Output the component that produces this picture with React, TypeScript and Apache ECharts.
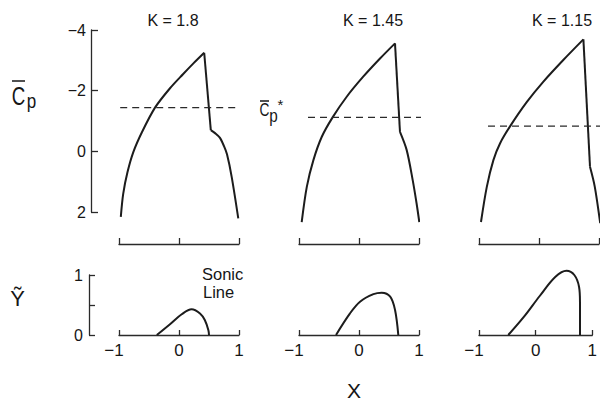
import { useEffect, useRef } from 'react';
import * as echarts from 'echarts';

const FONT = '"Liberation Sans", Arial, sans-serif';
const INK = '#161616';
const LINE = '#1c1c1c';

// Reduced frequency parameter for each column
const kValues = ['1.8', '1.45', '1.15'];

// Axis ticks
const xTicks = [-1, 0, 1];
const cpTicks = [-4, -2, 0, 2];
const yTicks = [0, 1];

// Upper surface pressure coefficient: expansion branch up to the shock
const cpExpansion: number[][][] = [
  [[-0.97, 2.16], [-0.93, 1.4], [-0.86, 0.7], [-0.76, 0.02], [-0.62, -0.62], [-0.4, -1.44], [-0.15, -2.08], [0.07, -2.55], [0.24, -2.9], [0.42, -3.25]],
  [[-0.955, 2.33], [-0.87, 1.17], [-0.76, 0.29], [-0.62, -0.48], [-0.44, -1.12], [-0.205, -1.8], [0.07, -2.46], [0.35, -3.06], [0.6, -3.56]],
  [[-0.967, 2.33], [-0.87, 1.17], [-0.76, 0.29], [-0.65, -0.26], [-0.48, -0.83], [-0.205, -1.62], [0.07, -2.29], [0.405, -3.01], [0.74, -3.69]],
];

// Jump across the shock
const cpShock: number[][][] = [
  [[0.42, -3.25], [0.53, -0.7]],
  [[0.6, -3.56], [0.683, -0.64]],
  [[0.74, -3.69], [0.85, 0.51]],
];

// Recompression behind the shock to the trailing edge
const cpRecovery: number[][][] = [
  [[0.53, -0.7], [0.6, -0.6], [0.68, -0.45], [0.75, -0.17], [0.8, 0.1], [0.878, 0.84], [0.988, 2.21]],
  [[0.683, -0.64], [0.795, -0.04], [0.895, 0.95], [0.96, 1.72], [1.005, 2.33]],
  [[0.85, 0.51], [0.93, 1.17], [1.02, 2.37]],
];

// Critical pressure coefficient and the X range of its dashed line
const cpCritical = [-1.44, -1.12, -0.83];
const cpCriticalSpan = [[-0.98, 0.95], [-0.85, 1.12], [-0.85, 1.35]];

// Sonic line (edge of the supersonic pocket)
const sonicArc: number[][][] = [
  [[-0.37, 0], [-0.15, 0.18], [0.045, 0.345], [0.21, 0.43], [0.35, 0.36], [0.43, 0.25], [0.49, 0.08], [0.5, 0]],
  [[-0.383, 0], [-0.15, 0.36], [0.017, 0.555], [0.24, 0.68], [0.378, 0.705], [0.52, 0.64], [0.6, 0.42], [0.655, 0]],
  [[-0.483, 0], [-0.205, 0.305], [0.072, 0.65], [0.35, 0.97], [0.545, 1.07], [0.683, 1.0], [0.767, 0.8], [0.783, 0.55]],
];
const sonicDrop: number[][][] = [[], [], [[0.783, 0.55], [0.783, 0]]];

const lefts = [119, 299, 479];
const titleX = [173, 373, 562];
const UPPER_TOP = 30;
const UPPER_H = 182;
const LOWER_TOP = 275;
const LOWER_H = 60;
const PANEL_W = 120;

const axisLineStyle = { color: '#2a2a2a', width: 1.3 };
const minus = (v: number) => (v < 0 ? `\u2212${-v}` : `${v}`);

function buildOption() {
  const grid: any[] = [];
  const xAxis: any[] = [];
  const yAxis: any[] = [];
  const series: any[] = [];
  const xStep = xTicks[1] - xTicks[0];

  kValues.forEach((_, i) => {
    grid.push({ left: lefts[i], top: UPPER_TOP, width: PANEL_W, height: UPPER_H });
  });
  kValues.forEach((_, i) => {
    grid.push({ left: lefts[i], top: LOWER_TOP, width: PANEL_W, height: LOWER_H });
  });

  // upper x axes: unlabeled brackets below the Cp plots
  kValues.forEach((_, i) => {
    xAxis.push({
      gridIndex: i, type: 'value', min: xTicks[0], max: xTicks[xTicks.length - 1], interval: xStep,
      position: 'bottom', offset: 32,
      axisLine: { show: true, onZero: false, lineStyle: axisLineStyle },
      axisTick: { show: true, inside: true, length: 6, lineStyle: axisLineStyle },
      axisLabel: { show: false },
      splitLine: { show: false },
    });
  });
  // lower x axes with labels
  kValues.forEach((_, i) => {
    xAxis.push({
      gridIndex: i + 3, type: 'value', min: xTicks[0], max: xTicks[xTicks.length - 1], interval: xStep,
      position: 'bottom', offset: 0,
      axisLine: { show: true, onZero: false, lineStyle: axisLineStyle },
      axisTick: { show: true, inside: true, length: 5, lineStyle: axisLineStyle },
      axisLabel: {
        margin: 7,
        formatter: (v: number) => (v < 0 ? `{n|${minus(v)}}{gap| }` : `{n|${v}}`),
        rich: {
          n: { fontSize: 17, fontFamily: FONT, color: INK },
          gap: { width: 10, fontSize: 17, fontFamily: FONT },
        },
      },
      splitLine: { show: false },
    });
  });

  // upper y axes (only the first one is drawn)
  kValues.forEach((_, i) => {
    yAxis.push({
      gridIndex: i, type: 'value', inverse: true,
      min: cpTicks[0], max: cpTicks[cpTicks.length - 1], interval: cpTicks[1] - cpTicks[0],
      show: i === 0, position: 'left', offset: 28,
      axisLine: { show: true, onZero: false, lineStyle: axisLineStyle },
      axisTick: { show: true, inside: true, length: 7, lineStyle: axisLineStyle },
      axisLabel: { margin: 5, fontSize: 16, fontFamily: FONT, color: INK, formatter: minus },
      splitLine: { show: false },
    });
  });
  // lower y axes
  kValues.forEach((_, i) => {
    yAxis.push({
      gridIndex: i + 3, type: 'value', min: yTicks[0], max: yTicks[yTicks.length - 1], interval: 0.5,
      show: i === 0, position: 'left', offset: 30,
      axisLine: { show: true, onZero: false, lineStyle: axisLineStyle },
      axisTick: { show: true, inside: true, length: 6, lineStyle: axisLineStyle },
      axisLabel: {
        margin: 6, fontSize: 16, fontFamily: FONT, color: INK,
        formatter: (v: number) => (yTicks.includes(v) ? `${v}` : ''),
      },
      splitLine: { show: false },
    });
  });

  const curve = { color: LINE, width: 2 };
  kValues.forEach((k, i) => {
    const base = { type: 'line', xAxisIndex: i, yAxisIndex: i, showSymbol: false, clip: false, silent: true };
    series.push({ ...base, name: `Cp expansion K=${k}`, data: cpExpansion[i], smooth: 0.3, lineStyle: curve });
    series.push({ ...base, name: `Cp shock K=${k}`, data: cpShock[i], smooth: false, lineStyle: curve });
    series.push({ ...base, name: `Cp recovery K=${k}`, data: cpRecovery[i], smooth: 0.3, lineStyle: curve });
    series.push({
      ...base, name: `Cp* K=${k}`,
      data: cpCriticalSpan[i].map((x) => [x, cpCritical[i]]),
      lineStyle: { color: '#2a2a2a', width: 1.4, type: [7, 5] },
    });
    const low = { type: 'line', xAxisIndex: i + 3, yAxisIndex: i + 3, showSymbol: false, clip: false, silent: true };
    series.push({ ...low, name: `Sonic line K=${k}`, data: sonicArc[i], smooth: 0.35, lineStyle: curve });
    if (sonicDrop[i].length) {
      series.push({ ...low, name: `Sonic line end K=${k}`, data: sonicDrop[i], smooth: false, lineStyle: curve });
    }
  });

  const txt = (text: string, x: number, y: number, size: number, extra: any = {}) => ({
    type: 'text', x, y, silent: true, ...extra,
    style: { text, fill: INK, font: `${size}px ${FONT}`, textAlign: 'center', textVerticalAlign: 'middle', ...(extra.style || {}) },
  });
  const bar = (x1: number, x2: number, y: number) => ({
    type: 'line', silent: true, shape: { x1, y1: y, x2, y2: y }, style: { stroke: INK, lineWidth: 1.5 },
  });

  const graphic: any[] = [
    ...kValues.map((k, i) => txt(`K = ${k}`, titleX[i], 20, 16)),
    // C̄p axis title
    txt('C', 18.5, 96, 26, { scaleX: 0.72 }),
    bar(12, 25, 81),
    txt('p', 31.5, 100.5, 20, { scaleX: 0.85 }),
    // C̄p* label for the dashed line
    txt('C', 264.5, 110, 19, { scaleX: 0.72 }),
    bar(260, 269, 101),
    txt('p', 273.5, 116, 18, { scaleX: 0.85 }),
    txt('*', 280.5, 104, 15),
    // Ỹ axis title
    txt('\u1EF8', 17.5, 298, 22),
    // sonic line annotation
    txt('Sonic', 202, 273.5, 16.5, { style: { textAlign: 'left' } }),
    txt('Line', 203, 291.5, 16.5, { style: { textAlign: 'left' } }),
    // X axis title
    txt('X', 354, 390.5, 21),
  ];

  return {
    animation: false,
    backgroundColor: '#ffffff',
    grid, xAxis, yAxis, series, graphic,
  };
}

export default function App() {
  const ref = useRef<HTMLDivElement>(null);
  useEffect(() => {
    if (!ref.current) return;
    const chart = echarts.init(ref.current, undefined, { renderer: 'svg' });
    chart.setOption(buildOption() as any);
    return () => chart.dispose();
  }, []);
  return (
    <div
      ref={ref}
      style={{ position: 'fixed', left: 0, top: 0, width: 600, height: 403, background: '#fff' }}
    />
  );
}
